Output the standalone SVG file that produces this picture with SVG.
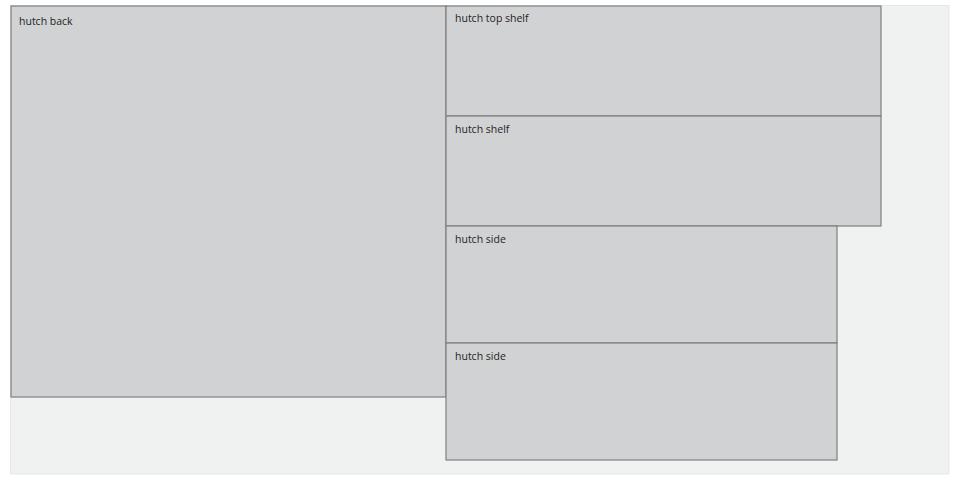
<svg xmlns="http://www.w3.org/2000/svg" width="960" height="480" viewBox="0 0 960 480">
<style>
.p{fill:#d1d2d4;stroke:#7f7f7f;stroke-width:1.2}
.t{font-family:"Open Sans","Liberation Sans",sans-serif;font-size:10.5px;fill:#231f20}
</style>
<rect x="0" y="0" width="960" height="480" fill="#ffffff"/>
<rect id="sheet" x="10.5" y="5.5" width="938.5" height="468.5" fill="#f0f1f1" stroke="#e6e7e7" stroke-width="1"/>
<g id="hutch-back"><rect class="p" x="11" y="6" width="435" height="391"/><text class="t" x="19" y="25">hutch back</text></g>
<g id="hutch-top-shelf"><rect class="p" x="446" y="6" width="435" height="110"/><text class="t" x="455" y="22">hutch top shelf</text></g>
<g id="hutch-shelf"><rect class="p" x="446" y="116" width="435" height="110"/><text class="t" x="455" y="133">hutch shelf</text></g>
<g id="hutch-side-1"><rect class="p" x="446" y="226" width="391" height="117"/><text class="t" x="455" y="243">hutch side</text></g>
<g id="hutch-side-2"><rect class="p" x="446" y="343" width="391" height="117"/><text class="t" x="455" y="360">hutch side</text></g>
<g id="connectors"></g>
</svg>
